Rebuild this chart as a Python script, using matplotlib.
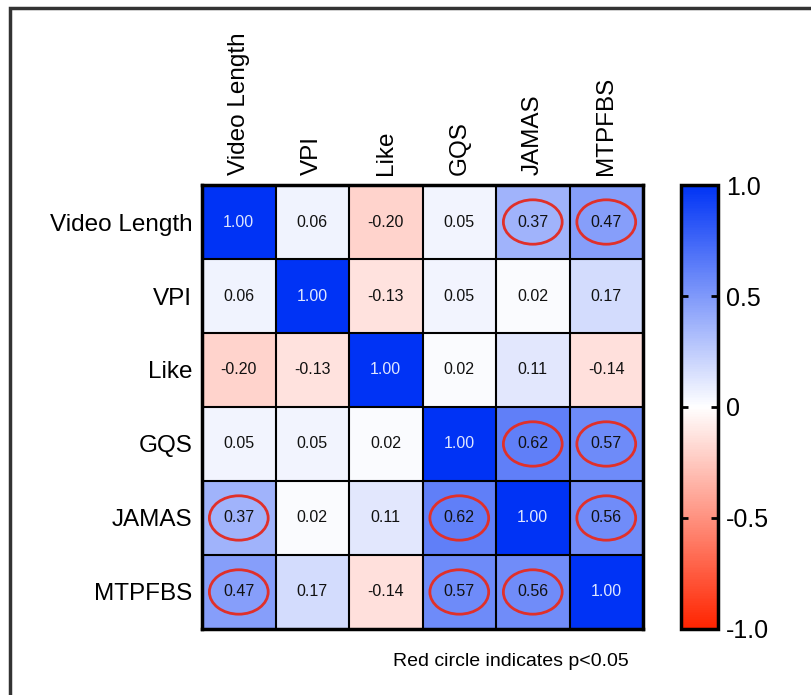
import numpy as np
import matplotlib.pyplot as plt
from matplotlib.colors import LinearSegmentedColormap
from matplotlib.patches import Ellipse, Rectangle

plt.rcParams['font.family'] = ['Liberation Sans', 'DejaVu Sans']

labels = ["Video Length", "VPI", "Like", "GQS", "JAMAS", "MTPFBS"]
corr = np.array([
    [1.00, 0.06, -0.20, 0.05, 0.37, 0.47],
    [0.06, 1.00, -0.13, 0.05, 0.02, 0.17],
    [-0.20, -0.13, 1.00, 0.02, 0.11, -0.14],
    [0.05, 0.05, 0.02, 1.00, 0.62, 0.57],
    [0.37, 0.02, 0.11, 0.62, 1.00, 0.56],
    [0.47, 0.17, -0.14, 0.57, 0.56, 1.00],
])
# cells with p<0.05 (row, col)
significant = [(0, 4), (0, 5), (3, 4), (3, 5), (4, 0), (4, 3), (4, 5),
               (5, 0), (5, 3), (5, 4)]
cbar_ticks = [-1.0, -0.5, 0, 0.5, 1.0]
cbar_ticklabels = ["-1.0", "-0.5", "0", "0.5", "1.0"]

cmap = LinearSegmentedColormap.from_list("rwb", ["#ff2400", "#ffffff", "#0033f5"])

fig = plt.figure(figsize=(8.12, 6.95), dpi=100)
ax = fig.add_axes([0.2488, 0.095, 0.5431, 0.6388])
cax = fig.add_axes([0.8387, 0.095, 0.0455, 0.6388])

n = len(labels)
im = ax.imshow(corr, cmap=cmap, vmin=-1, vmax=1, aspect="auto")

for i in range(n):
    for j in range(n):
        v = corr[i, j]
        color = "#dfe6ff" if v >= 0.99 else "#111111"
        ax.text(j, i, f"{v:.2f}", ha="center", va="center", fontsize=11.5, color=color)

for (i, j) in significant:
    ax.add_patch(Ellipse((j, i), 0.8, 0.6, fill=False, edgecolor="#e0302a", lw=2))

for k in range(1, n):
    ax.axhline(k - 0.5, color="black", lw=1.5)
    ax.axvline(k - 0.5, color="black", lw=1.5)
for s in ax.spines.values():
    s.set_linewidth(2.5)

ax.set_xticks(range(n))
ax.set_yticks(range(n))
ax.set_xticklabels(labels, rotation=90, fontsize=17.5)
ax.set_yticklabels(labels, fontsize=17.5)
ax.xaxis.tick_top()
ax.tick_params(length=0, pad=7)

cb = fig.colorbar(im, cax=cax, ticks=cbar_ticks)
cb.ax.set_yticklabels(cbar_ticklabels, fontsize=18)
cb.ax.tick_params(direction="in", length=5, width=2, left=True, right=True, pad=6)
cb.outline.set_linewidth(2.5)

fig.text(0.4839, 0.0475, "Red circle indicates p<0.05", fontsize=14, ha="left", va="center")

fig.patches.append(Rectangle((0.0123, -0.05), 1.2, 1.0385, transform=fig.transFigure,
                             fill=False, edgecolor="#333333", lw=2.5, figure=fig))

fig.savefig("out.png", dpi=100)
